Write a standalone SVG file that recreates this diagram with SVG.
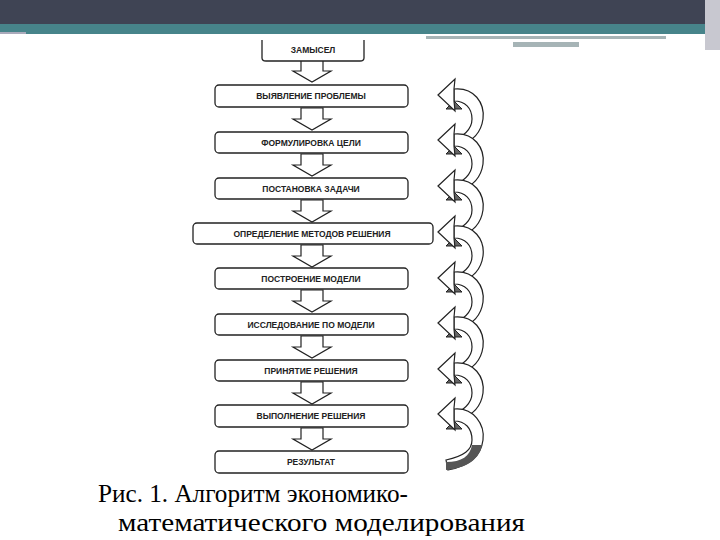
<svg xmlns="http://www.w3.org/2000/svg" width="720" height="540" viewBox="0 0 720 540">
<defs>
<style>
.box{fill:#fff;stroke:#222;stroke-width:1.3}
.t{font-family:"Liberation Sans",Arial,sans-serif;font-size:8.5px;font-weight:bold;fill:#222;text-anchor:middle}
.ha{fill:#fff;stroke:#222;stroke-width:1.2;stroke-linejoin:miter}
.cap{font-family:"Liberation Serif","Times New Roman",serif;font-size:26px;fill:#000}
</style>
<polygon id="da" class="ha" points="-11,0 11,0 11,11 19,11 0,22 -19,11 -11,11"/>
<g id="ca">
<path d="M16,-6 C36,-8 47,8 45,24 C43,38 35,46 22,50 L10,48 C26,42 34,34 34,24 C34,13 27,6 16,6 Z" fill="#fff" stroke="#222" stroke-width="1.2"/>
<polygon points="16,6 8,14 24,14" fill="#666" stroke="#222" stroke-width="1"/>
<polygon points="0,0 17,-16 16,-6 16,6 17,16" fill="#fff" stroke="#222" stroke-width="1.2"/>
</g>
</defs>
<rect x="0" y="0" width="720" height="24" fill="#3f4454"/>
<rect x="0" y="24" width="720" height="10" fill="#47848a"/>
<rect x="0" y="32" width="26" height="2" fill="#aab"/>
<rect x="426" y="36" width="240" height="3" fill="#a6b4b6"/>
<rect x="513" y="42" width="66" height="5" fill="#a6b4b6"/>
<rect x="705" y="0" width="15" height="50" fill="#c8c8d0"/>
<g id="connectors">
<use href="#da" x="312" y="60"/>
<use href="#da" x="312" y="108"/>
<use href="#da" x="312" y="154"/>
<use href="#da" x="312" y="200"/>
<use href="#da" x="312" y="245"/>
<use href="#da" x="312" y="290"/>
<use href="#da" x="312" y="336"/>
<use href="#da" x="312" y="382"/>
<use href="#da" x="312" y="428"/>
<use href="#ca" x="438" y="95"/>
<use href="#ca" x="438" y="140"/>
<use href="#ca" x="438" y="186"/>
<use href="#ca" x="438" y="232"/>
<use href="#ca" x="438" y="278"/>
<use href="#ca" x="438" y="323"/>
<use href="#ca" x="438" y="369"/>
<path d="M454,409 C474,407 485,425 483,440 C481,456 470,466 448,470 L446,460 C464,456 472,450 472,440 C472,428 465,421 454,421 Z" fill="#fff" stroke="#222" stroke-width="1.2"/>
<path d="M472,445 C470,456 462,462 446,462 L446,470 C468,468 480,458 482,445 Z" fill="#555"/>
<polygon points="454,421 446,429 462,429" fill="#666" stroke="#222"/>
<polygon points="438,414 455,398 454,408 454,420 455,430" fill="#fff" stroke="#222" stroke-width="1.2"/>
</g>
<g id="n0"><path class="box" d="M262,40 V58 Q262,61 266,61 H360 Q364,61 364,58 V40"/><text class="t" x="313" y="53">ЗАМЫСЕЛ</text></g>
<g id="n1"><rect class="box" x="215" y="85" width="193" height="22" rx="4"/><text class="t" x="311" y="99">ВЫЯВЛЕНИЕ ПРОБЛЕМЫ</text></g>
<g id="n2"><rect class="box" x="215" y="132" width="193" height="21" rx="4"/><text class="t" x="311" y="146">ФОРМУЛИРОВКА ЦЕЛИ</text></g>
<g id="n3"><rect class="box" x="215" y="178" width="193" height="21" rx="4"/><text class="t" x="311" y="192">ПОСТАНОВКА ЗАДАЧИ</text></g>
<g id="n4"><rect class="box" x="193" y="223" width="240" height="21" rx="4"/><text class="t" x="312" y="237">ОПРЕДЕЛЕНИЕ МЕТОДОВ РЕШЕНИЯ</text></g>
<g id="n5"><rect class="box" x="215" y="268" width="193" height="21" rx="4"/><text class="t" x="311" y="282">ПОСТРОЕНИЕ МОДЕЛИ</text></g>
<g id="n6"><rect class="box" x="215" y="314" width="193" height="21" rx="4"/><text class="t" x="311" y="328">ИССЛЕДОВАНИЕ ПО МОДЕЛИ</text></g>
<g id="n7"><rect class="box" x="215" y="360" width="193" height="21" rx="4"/><text class="t" x="311" y="374">ПРИНЯТИЕ РЕШЕНИЯ</text></g>
<g id="n8"><rect class="box" x="215" y="405" width="193" height="22" rx="4"/><text class="t" x="311" y="419">ВЫПОЛНЕНИЕ РЕШЕНИЯ</text></g>
<g id="n9"><rect class="box" x="215" y="451" width="193" height="22" rx="4"/><text class="t" x="311" y="465">РЕЗУЛЬТАТ</text></g>
<text class="cap" x="98" y="502" textLength="310" lengthAdjust="spacingAndGlyphs">Рис. 1. Алгоритм экономико-</text>
<text class="cap" x="118" y="531" textLength="407" lengthAdjust="spacingAndGlyphs">математического моделирования</text>
</svg>
